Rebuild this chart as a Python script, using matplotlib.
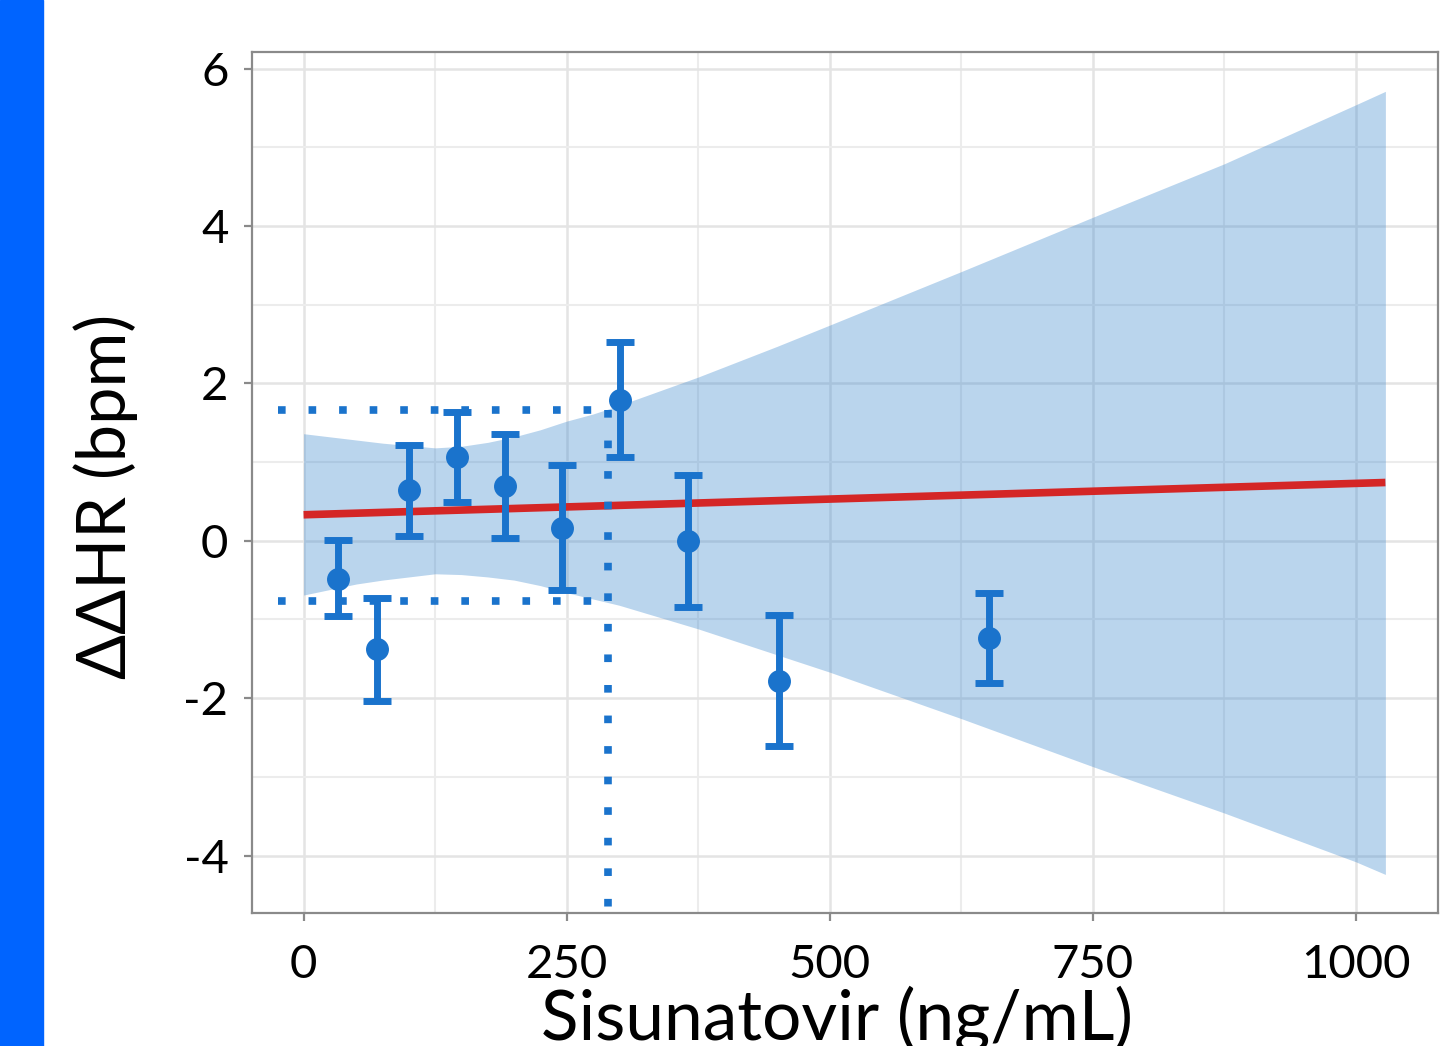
import matplotlib
matplotlib.use('Agg')
import matplotlib.pyplot as plt
from matplotlib.patches import Rectangle

plt.rcParams['font.family'] = ['Lato', 'DejaVu Sans']
plt.rcParams['axes.unicode_minus'] = False

# observed means with error bars
conc = [33, 70, 100, 146, 191, 246, 301, 365, 452, 651]
dhr = [-0.48, -1.38, 0.64, 1.06, 0.70, 0.16, 1.79, 0.00, -1.78, -1.24]
err_hi = [0.01, -0.73, 1.22, 1.64, 1.36, 0.96, 2.52, 0.83, -0.94, -0.67]
err_lo = [-0.96, -2.03, 0.06, 0.49, 0.03, -0.62, 1.07, -0.84, -2.61, -1.81]

# regression line and its confidence band
fit_x = [0, 1028]
fit_y = [0.33, 0.74]
band_x = [0, 25, 50, 75, 100, 125, 150, 175, 200, 225, 250, 275, 300,
          325, 350, 375, 400, 450, 500, 625, 750, 875, 1000, 1028]
band_hi = [1.36, 1.32, 1.28, 1.24, 1.21, 1.18, 1.20, 1.25, 1.32, 1.41,
           1.52, 1.61, 1.72, 1.84, 1.96, 2.08, 2.21, 2.47, 2.74, 3.42,
           4.11, 4.79, 5.54, 5.71]
band_lo = [-0.69, -0.62, -0.55, -0.50, -0.46, -0.42, -0.43, -0.46, -0.50,
           -0.57, -0.66, -0.74, -0.82, -0.92, -1.02, -1.12, -1.23, -1.45,
           -1.67, -2.26, -2.87, -3.46, -4.08, -4.24]

# reference dotted lines
ref_x = 289
ref_hi = 1.66
ref_lo = -0.76

blue = '#1a73cc'

fig = plt.figure(figsize=(14.41, 10.46), dpi=100)
fig.add_artist(Rectangle((0, 0), 43 / 1441, 1, transform=fig.transFigure,
                         color='#0064ff', zorder=0))
ax = fig.add_axes([252 / 1441, 1 - 913 / 1046, 1186 / 1441, 861 / 1046])

ax.set_xlim(-49, 1078)
ax.set_ylim(-4.73, 6.21)
ax.set_xticks([0, 250, 500, 750, 1000])
ax.set_xticks([125, 375, 625, 875], minor=True)
ax.set_yticks([-4, -2, 0, 2, 4, 6])
ax.set_yticks([-3, -1, 1, 3, 5], minor=True)
ax.grid(True, which='major', color='#e4e4e4', lw=1.8, zorder=0)
ax.grid(True, which='minor', color='#ececec', lw=1.5, zorder=0)
ax.set_axisbelow(True)

ax.fill_between(band_x, band_lo, band_hi, color='#3a87ce', alpha=0.35,
                lw=0, zorder=1)
ax.plot(fit_x, fit_y, color='#d42626', lw=5.5, zorder=2, solid_capstyle='butt')

dot_kw = dict(color=blue, lw=5.5, dashes=(1, 3), dash_capstyle='butt', zorder=2)
ax.plot([-24, ref_x], [ref_hi, ref_hi], **dot_kw)
ax.plot([-24, ref_x], [ref_lo, ref_lo], **dot_kw)
ax.plot([ref_x, ref_x], [ref_hi, -4.75], clip_on=False, **dot_kw)

yerr = [[d - l for d, l in zip(dhr, err_lo)], [h - d for d, h in zip(dhr, err_hi)]]
ax.errorbar(conc, dhr, yerr=yerr, fmt='o', color=blue, ms=15.5, elinewidth=5,
            capsize=10, capthick=5, zorder=3)

for s in ax.spines.values():
    s.set_color('#8a8a8a')
    s.set_linewidth(1.6)
ax.tick_params(which='major', length=6, width=1.6, color='#8a8a8a',
               labelsize=34)
ax.tick_params(axis='y', which='major', pad=11)
ax.tick_params(axis='x', which='major', pad=16)
ax.tick_params(which='minor', length=0)

fig.text(106 / 1441, 1 - 496 / 1046, 'ΔΔHR (bpm)', rotation=90, fontsize=48,
         ha='center', va='center')
fig.text(837 / 1441, 1 - 1040 / 1046, 'Sisunatovir (ng/mL)', fontsize=50,
         ha='center', va='baseline')

fig.savefig('out.png', dpi=100)
